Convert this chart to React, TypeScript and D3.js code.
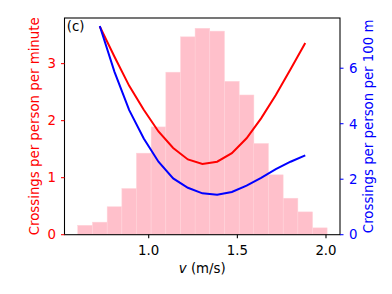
import * as React from 'react';
import { useRef, useEffect } from 'react';
import * as d3 from 'd3';

// bin centres of the speed histogram (m/s)
const speeds = [0.641, 0.724, 0.807, 0.890, 0.972, 1.055, 1.138, 1.221, 1.303, 1.386, 1.469, 1.552, 1.634, 1.717, 1.800, 1.883, 1.965];
const binWidth = 0.0827;
// histogram heights (drawn on the left axis)
const histValues = [0.165, 0.22, 0.49, 0.81, 1.43, 1.89, 2.85, 3.47, 3.62, 3.57, 2.69, 2.45, 1.60, 1.05, 0.64, 0.40, 0.12];
// crossings per person per minute (bins 1..15)
const perMinute = [3.65, 3.12, 2.61, 2.19, 1.81, 1.52, 1.32, 1.24, 1.28, 1.43, 1.69, 2.04, 2.45, 2.90, 3.36];
// crossings per person per 100 m (bins 1..15)
const per100m = [7.52, 5.87, 4.49, 3.47, 2.63, 2.03, 1.69, 1.49, 1.44, 1.54, 1.77, 2.05, 2.36, 2.63, 2.86];
const lineSpeeds = speeds.slice(1, 16);

const xTicks = [1.0, 1.5, 2.0];
const leftTicks = [0, 1, 2, 3];
const rightTicks = [0, 2, 4, 6];

const W = 392;
const H = 294;
const FONT = '"DejaVu Sans", sans-serif';
const FS = 13.33;

export default function App() {
  const svgRef = useRef<SVGSVGElement | null>(null);

  useEffect(() => {
    if (!svgRef.current) return;
    const svg = d3.select(svgRef.current);
    svg.selectAll('*').remove();

    const left = 64.5, right = 340, top = 18, bottom = 234.7;

    const x = d3.scaleLinear().domain([0.525, 2.079]).range([left, right]);
    const yL = d3.scaleLinear().domain([0, 3.8]).range([bottom, top]);
    const yR = d3.scaleLinear().domain([0, 7.81]).range([bottom, top]);

    // histogram
    svg.append('g')
      .selectAll('rect')
      .data(histValues)
      .join('rect')
      .attr('x', (d, i) => x(speeds[i] - binWidth / 2))
      .attr('width', (d, i) => x(speeds[i] + binWidth / 2) - x(speeds[i] - binWidth / 2))
      .attr('y', d => yL(d))
      .attr('height', d => bottom - yL(d))
      .attr('fill', 'pink')
      .attr('stroke', '#ffd3da')
      .attr('stroke-width', 0.5);

    const redLine = d3.line<number>()
      .x((d, i) => x(lineSpeeds[i]))
      .y(d => yL(d));
    const blueLine = d3.line<number>()
      .x((d, i) => x(lineSpeeds[i]))
      .y(d => yR(d));

    svg.append('path')
      .attr('d', redLine(perMinute))
      .attr('fill', 'none')
      .attr('stroke', '#ff0000')
      .attr('stroke-width', 2);

    svg.append('path')
      .attr('d', blueLine(per100m))
      .attr('fill', 'none')
      .attr('stroke', '#0000ff')
      .attr('stroke-width', 2);

    // frame
    svg.append('rect')
      .attr('x', left)
      .attr('y', top)
      .attr('width', right - left)
      .attr('height', bottom - top)
      .attr('fill', 'none')
      .attr('stroke', '#000')
      .attr('stroke-width', 1.07);

    // x axis
    xTicks.forEach(t => {
      svg.append('line')
        .attr('x1', x(t)).attr('x2', x(t))
        .attr('y1', bottom).attr('y2', bottom + 3.5)
        .attr('stroke', '#000').attr('stroke-width', 1.07);
      svg.append('text')
        .attr('x', x(t))
        .attr('y', 255)
        .attr('text-anchor', 'middle')
        .attr('font-family', FONT)
        .attr('font-size', FS)
        .attr('fill', '#000')
        .text(t.toFixed(1));
    });

    const xl = svg.append('text')
      .attr('x', (left + right) / 2)
      .attr('y', 273)
      .attr('text-anchor', 'middle')
      .attr('font-family', FONT)
      .attr('font-size', FS)
      .attr('fill', '#000');
    xl.append('tspan').attr('font-style', 'italic').text('v');
    xl.append('tspan').text(' (m/s)');

    // left axis (red)
    leftTicks.forEach(t => {
      svg.append('line')
        .attr('x1', left - 3.5).attr('x2', left)
        .attr('y1', yL(t)).attr('y2', yL(t))
        .attr('stroke', '#ff0000').attr('stroke-width', 1.07);
      svg.append('text')
        .attr('x', left - 8.5)
        .attr('y', yL(t))
        .attr('dy', '0.36em')
        .attr('text-anchor', 'end')
        .attr('font-family', FONT)
        .attr('font-size', FS)
        .attr('fill', '#ff0000')
        .text(t);
    });

    svg.append('text')
      .attr('transform', `translate(39.3, ${(top + bottom) / 2}) rotate(-90)`)
      .attr('text-anchor', 'middle')
      .attr('font-family', FONT)
      .attr('font-size', FS)
      .attr('fill', '#ff0000')
      .text('Crossings per person per minute');

    // right axis (blue)
    rightTicks.forEach(t => {
      svg.append('line')
        .attr('x1', right).attr('x2', right + 3.5)
        .attr('y1', yR(t)).attr('y2', yR(t))
        .attr('stroke', '#0000ff').attr('stroke-width', 1.07);
      svg.append('text')
        .attr('x', right + 9)
        .attr('y', yR(t))
        .attr('dy', '0.36em')
        .attr('text-anchor', 'start')
        .attr('font-family', FONT)
        .attr('font-size', FS)
        .attr('fill', '#0000ff')
        .text(t);
    });

    svg.append('text')
      .attr('transform', `translate(373.3, ${(top + bottom) / 2}) rotate(-90)`)
      .attr('text-anchor', 'middle')
      .attr('font-family', FONT)
      .attr('font-size', FS)
      .attr('fill', '#0000ff')
      .text('Crossings per person per 100 m');

    // panel tag
    svg.append('text')
      .attr('x', 66.7)
      .attr('y', 30.5)
      .attr('font-family', FONT)
      .attr('font-size', FS)
      .attr('fill', '#000')
      .text('(c)');
  }, []);

  return (
    <svg
      ref={svgRef}
      width={W}
      height={H}
      style={{ position: 'absolute', left: 0, top: 0, background: '#fff', display: 'block' }}
    />
  );
}
